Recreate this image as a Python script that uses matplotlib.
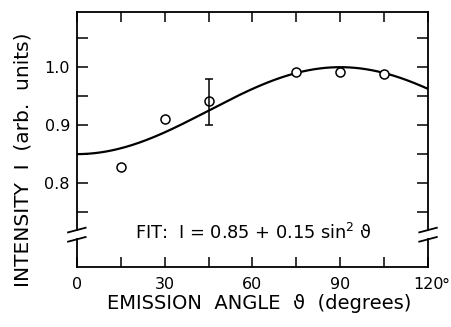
import numpy as np
import matplotlib
matplotlib.use('Agg')
import matplotlib.pyplot as plt

# measured points (emission angle in degrees, intensity arb. units)
angle = [15, 30, 45, 75, 90, 105]
intensity = [0.828, 0.910, 0.942, 0.992, 0.991, 0.989]
err_angle = [45]
err_val = [0.940]
err_low = [0.040]
err_high = [0.040]

# fit I = A + B sin^2(theta), parameters as printed on the chart
fit_a = 0.85
fit_b = 0.15

x_ticks = [0, 30, 60, 90, 120]
x_tick_labels = ['0', '30', '60', '90', '120']
y_ticks = [0.8, 0.9, 1.0]
y_tick_labels = ['0.8', '0.9', '1.0']

plt.rcParams['font.family'] = ['DejaVu Sans']

fig = plt.figure(figsize=(4.52, 3.27), dpi=100)
ax = fig.add_axes([0.170, 0.183, 0.777, 0.780])

th = np.linspace(0, 120, 300)
ax.plot(th, fit_a + fit_b * np.sin(np.radians(th)) ** 2, color='black', lw=1.6)
ax.plot(angle, intensity, 'o', mfc='white', mec='black', ms=6.5, mew=1.1)
ax.errorbar(err_angle, err_val, yerr=[err_low, err_high], fmt='none',
            ecolor='black', elinewidth=1.1, capsize=3, capthick=1.1)

ax.set_xlim(0, 120)
ax.set_ylim(0.655, 1.095)

ax.set_xticks(x_ticks)
ax.set_xticklabels(x_tick_labels, fontsize=11.5)
ax.set_xticks([15, 45, 75, 105], minor=True)
ax.set_yticks(y_ticks)
ax.set_yticklabels(y_tick_labels, fontsize=11.5)
ax.set_yticks([0.75, 0.85, 0.95, 1.05], minor=True)
ax.tick_params(which='both', direction='in', top=True, right=True, width=1.1)
ax.tick_params(axis='y', which='both', length=8, pad=5)
ax.tick_params(axis='x', which='both', length=7, pad=7)

# broken y axis: draw left/right spines by hand with a gap
brk_lo, brk_hi = 0.703, 0.719
for s in ['left', 'right']:
    ax.spines[s].set_visible(False)
for s in ['top', 'bottom']:
    ax.spines[s].set_linewidth(1.3)
ytr = ax.get_yaxis_transform()
for xs in [0, 1]:
    ax.plot([xs, xs], [0.655, brk_lo], color='black', lw=1.3, transform=ytr, clip_on=False)
    ax.plot([xs, xs], [brk_hi, 1.095], color='black', lw=1.3, transform=ytr, clip_on=False)
    for yb in [brk_lo, brk_hi]:
        ax.plot([xs - 0.025, xs + 0.025], [yb - 0.004, yb + 0.004], color='black',
                lw=1.3, transform=ytr, clip_on=False)

ax.text(0.165, 0.133, 'FIT:  I = 0.85 + 0.15 sin$^2$ \u03d1', transform=ax.transAxes,
        ha='left', va='center', fontsize=12.8)
ax.annotate('\u00b0', xy=(1, 0), xycoords='axes fraction', xytext=(10, -16.5),
            textcoords='offset points', ha='left', va='baseline', fontsize=11.5)

ax.set_xlabel('EMISSION  ANGLE  \u03d1  (degrees)', fontsize=14)
ax.xaxis.set_label_coords(0.52, -0.105)
ax.set_ylabel('INTENSITY  I  (arb.  units)', fontsize=14.5)
ax.yaxis.set_label_coords(-0.125, 0.42)

fig.savefig('out.png', dpi=100)
